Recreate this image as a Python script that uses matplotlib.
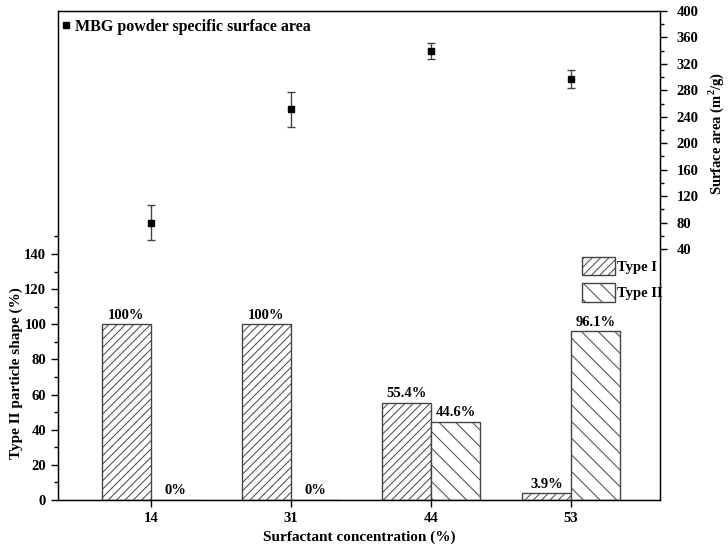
import matplotlib
matplotlib.use("Agg")
import matplotlib.pyplot as plt
import numpy as np
from matplotlib.ticker import FixedLocator, MultipleLocator

# data
concentrations = ["14", "31", "44", "53"]
typeOne = [100, 100, 55.4, 3.9]
typeTwo = [0, 0, 44.6, 96.1]
typeOneLabels = ["100%", "100%", "55.4%", "3.9%"]
typeTwoLabels = ["0%", "0%", "44.6%", "96.1%"]
surfaceArea = [80, 251, 340, 297]
surfaceErr = [27, 27, 12, 13]

plt.rcParams['font.family'] = ['Liberation Serif', 'DejaVu Serif']
plt.rcParams['font.weight'] = 'bold'
plt.rcParams['axes.labelweight'] = 'bold'
plt.rcParams['font.size'] = 10.5
plt.rcParams['mathtext.fontset'] = 'custom'
plt.rcParams['mathtext.bf'] = 'Liberation Serif:bold'
plt.rcParams['mathtext.rm'] = 'Liberation Serif:bold'
plt.rcParams['hatch.linewidth'] = 0.7
plt.rcParams['hatch.color'] = '#444444'

fig = plt.figure(figsize=[7.28, 5.53], dpi=100)
ax = fig.add_axes([0.0797, 0.0958, 0.8269, 0.8843])

x = np.arange(len(concentrations))
width = 0.35
edge = '#444444'

bOne = ax.bar(x - width / 2, typeOne, width, color='white', edgecolor=edge,
	hatch='////', linewidth=1.0, label='Type I')
bTwo = ax.bar(x + width / 2, typeTwo, width, color='white', edgecolor=edge,
	hatch='\\\\', linewidth=1.0, label='Type II')

for i in range(len(x)):
	ax.text(x[i] - width / 2, typeOne[i] + 1.5, typeOneLabels[i], ha='center', va='bottom', fontsize=10.5, fontweight='bold')
	ax.text(x[i] + width / 2, typeTwo[i] + 1.5, typeTwoLabels[i], ha='center', va='bottom', fontsize=10.5, fontweight='bold')

ax.set_xlim(-0.664, 3.636)
ax.set_ylim(0, 278.3)
ax.set_xticks(x)
ax.set_xticklabels(concentrations)
ax.set_yticks(np.arange(0, 141, 20))
ax.yaxis.set_minor_locator(FixedLocator(np.arange(10, 151, 20)))
ax.tick_params(axis='both', direction='out', length=5, width=1)
ax.tick_params(axis='y', which='minor', direction='out', length=3, width=1)
ax.tick_params(axis='x', which='minor', bottom=False)
ax.set_xlabel("Surfactant concentration (%)", fontsize=11, fontweight='bold')
ax.set_ylabel("Type II particle shape (%)", fontsize=11, fontweight='bold')
ax.yaxis.set_label_coords(-0.058, 0.26)
for s in ax.spines.values():
	s.set_linewidth(1.0)

leg = ax.legend(loc='upper left', bbox_to_anchor=(0.870, 0.497), frameon=False,
	borderaxespad=0, borderpad=0, handlelength=2.3, handleheight=1.55,
	labelspacing=0.55, handletextpad=0.15, fontsize=10.5)
for t in leg.get_texts():
	t.set_fontweight('bold')

# right axis: surface area
ax2 = ax.twinx()
ax2.errorbar(x, surfaceArea, yerr=surfaceErr, fmt='s', color='black', markersize=5,
	ecolor='#444444', elinewidth=1, capsize=3, capthick=1,
	label='MBG powder specific surface area')
ax2.set_ylim(-339.8, 400)
ax2.set_yticks(np.arange(40, 401, 40))
ax2.yaxis.set_minor_locator(FixedLocator(np.arange(60, 400, 40)))
ax2.tick_params(axis='y', direction='out', length=5, width=1, pad=7)
ax2.tick_params(axis='y', which='minor', direction='out', length=3, width=1)
ax2.set_ylabel("Surface area (m$^{2}$/g)", fontsize=10.5, fontweight='bold')
ax2.yaxis.set_label_coords(1.077, 0.75)

h, l = ax2.get_legend_handles_labels()
leg2 = ax2.legend([h[0][0]], l, loc='upper left', bbox_to_anchor=(-0.008, 1.0), frameon=False,
	borderaxespad=0.1, handlelength=0.6, handletextpad=0.25, fontsize=11.5)
for t in leg2.get_texts():
	t.set_fontweight('bold')

for lbl in ax.get_xticklabels() + ax.get_yticklabels() + ax2.get_yticklabels():
	lbl.set_fontweight('bold')

plt.savefig("out.png", dpi=100)
